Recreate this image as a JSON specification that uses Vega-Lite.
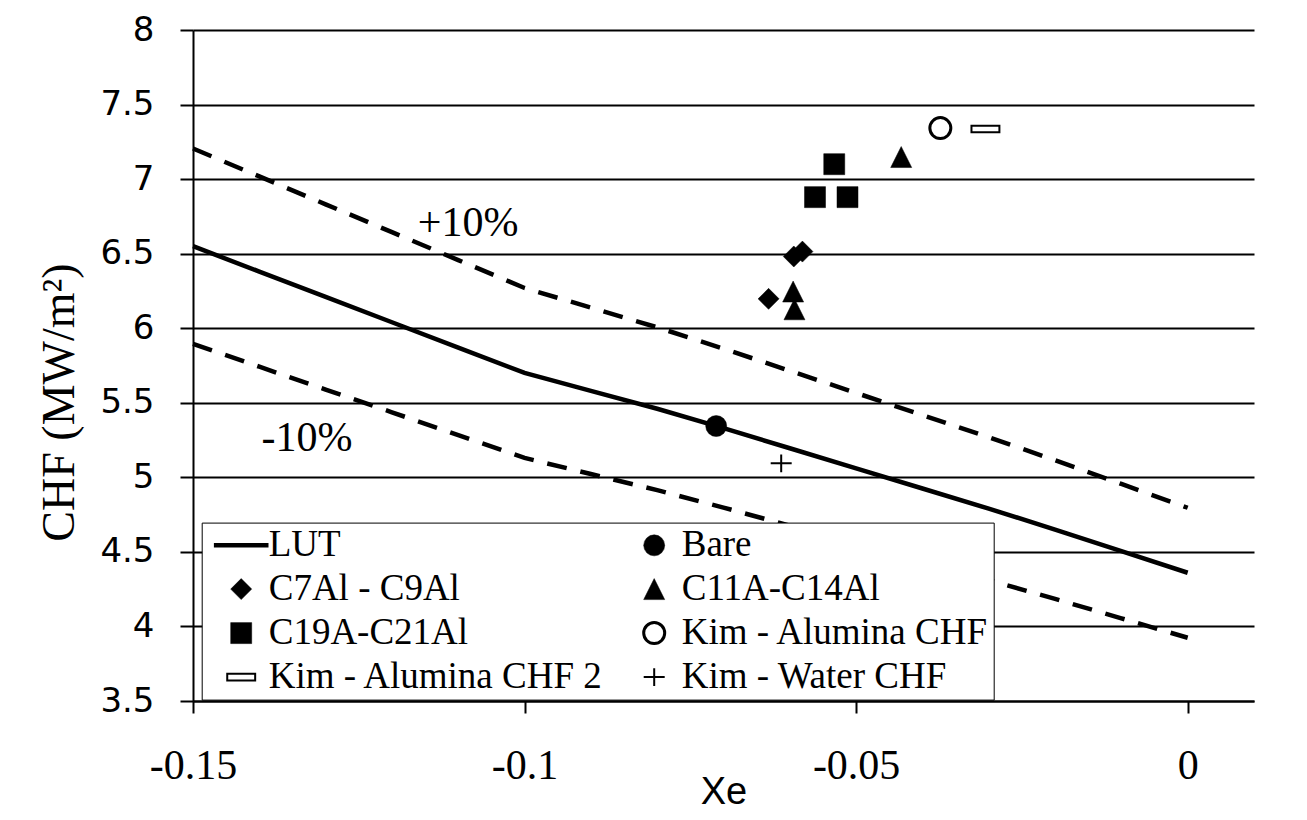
{
  "$schema": "https://vega.github.io/schema/vega-lite/v6.json",
  "width": 1061,
  "height": 671,
  "autosize": {"type": "none"},
  "padding": {"left": 193, "top": 30, "right": 53, "bottom": 119},
  "background": "white",
  "config": {"view": {"stroke": null}},
  "datasets": {
    "lut": [
      {"x": -0.15, "y": 6.55}, {"x": -0.14, "y": 6.38}, {"x": -0.13, "y": 6.21},
      {"x": -0.12, "y": 6.04}, {"x": -0.11, "y": 5.87}, {"x": -0.10, "y": 5.70},
      {"x": -0.09, "y": 5.58}, {"x": -0.08, "y": 5.46}, {"x": -0.07, "y": 5.33},
      {"x": -0.06, "y": 5.195}, {"x": -0.05, "y": 5.06}, {"x": -0.04, "y": 4.925},
      {"x": -0.03, "y": 4.79}, {"x": -0.02, "y": 4.65}, {"x": -0.01, "y": 4.505},
      {"x": 0.0, "y": 4.36}
    ],
    "bands": [
      {"band": "+10%", "x": -0.15, "y": 7.205}, {"band": "+10%", "x": -0.14, "y": 7.018},
      {"band": "+10%", "x": -0.13, "y": 6.831}, {"band": "+10%", "x": -0.12, "y": 6.644},
      {"band": "+10%", "x": -0.11, "y": 6.457}, {"band": "+10%", "x": -0.10, "y": 6.27},
      {"band": "+10%", "x": -0.09, "y": 6.138}, {"band": "+10%", "x": -0.08, "y": 6.006},
      {"band": "+10%", "x": -0.07, "y": 5.863}, {"band": "+10%", "x": -0.06, "y": 5.7145},
      {"band": "+10%", "x": -0.05, "y": 5.566}, {"band": "+10%", "x": -0.04, "y": 5.4175},
      {"band": "+10%", "x": -0.03, "y": 5.269}, {"band": "+10%", "x": -0.02, "y": 5.115},
      {"band": "+10%", "x": -0.01, "y": 4.9555}, {"band": "+10%", "x": 0.0, "y": 4.796},
      {"band": "-10%", "x": -0.15, "y": 5.895}, {"band": "-10%", "x": -0.14, "y": 5.742},
      {"band": "-10%", "x": -0.13, "y": 5.589}, {"band": "-10%", "x": -0.12, "y": 5.436},
      {"band": "-10%", "x": -0.11, "y": 5.283}, {"band": "-10%", "x": -0.10, "y": 5.13},
      {"band": "-10%", "x": -0.09, "y": 5.022}, {"band": "-10%", "x": -0.08, "y": 4.914},
      {"band": "-10%", "x": -0.07, "y": 4.797}, {"band": "-10%", "x": -0.06, "y": 4.6755},
      {"band": "-10%", "x": -0.05, "y": 4.554}, {"band": "-10%", "x": -0.04, "y": 4.4325},
      {"band": "-10%", "x": -0.03, "y": 4.311}, {"band": "-10%", "x": -0.02, "y": 4.185},
      {"band": "-10%", "x": -0.01, "y": 4.0545}, {"band": "-10%", "x": 0.0, "y": 3.924}
    ],
    "points": [
      {"series": "Bare", "x": -0.0711, "y": 5.344},
      {"series": "Kim - Water CHF", "x": -0.0613, "y": 5.094},
      {"series": "C7Al - C9Al", "x": -0.0632, "y": 6.197},
      {"series": "C7Al - C9Al", "x": -0.0594, "y": 6.481},
      {"series": "C7Al - C9Al", "x": -0.0581, "y": 6.514},
      {"series": "C11A-C14Al", "x": -0.0595, "y": 6.246},
      {"series": "C11A-C14Al", "x": -0.0593, "y": 6.127},
      {"series": "C11A-C14Al", "x": -0.0432, "y": 7.148},
      {"series": "C19A-C21Al", "x": -0.0533, "y": 7.10},
      {"series": "C19A-C21Al", "x": -0.0562, "y": 6.879},
      {"series": "C19A-C21Al", "x": -0.0513, "y": 6.879},
      {"series": "Kim - Alumina CHF", "x": -0.0373, "y": 7.342},
      {"series": "Kim - Alumina CHF 2", "x": -0.0305, "y": 7.336}
    ],
    "labels": [
      {"t": "+10%", "x": -0.1085, "y": 6.707},
      {"t": "-10%", "x": -0.1328, "y": 5.264}
    ]
  },
  "encoding": {
    "x": {
      "field": "x", "type": "quantitative",
      "scale": {"domain": [-0.15, 0.01], "nice": false, "zero": false},
      "axis": {
        "values": [-0.15, -0.1, -0.05, 0],
        "labelExpr": "toString(datum.value)",
        "grid": false,
        "domainColor": "black", "domainWidth": 2,
        "tickColor": "black", "tickWidth": 2, "tickSize": 12,
        "labelFont": "Liberation Serif", "labelFontSize": 42, "labelColor": "black",
        "labelPadding": 52, "labelBaseline": "middle", "labelFlush": false, "labelOverlap": false,
        "title": "Xe", "titleFont": "Liberation Sans", "titleFontSize": 38,
        "titleFontWeight": "normal", "titleColor": "black", "titleY": 91, "titleBaseline": "middle"
      }
    },
    "y": {
      "field": "y", "type": "quantitative",
      "scale": {"domain": [3.5, 8], "nice": false, "zero": false},
      "axis": {
        "values": [3.5, 4, 4.5, 5, 5.5, 6, 6.5, 7, 7.5, 8],
        "labelExpr": "toString(datum.value)",
        "grid": true, "gridColor": "black", "gridWidth": 2, "gridOpacity": 1,
        "domainColor": "black", "domainWidth": 2,
        "tickColor": "black", "tickWidth": 2, "tickSize": 13,
        "labelFont": "DejaVu Sans", "labelFontSize": 34, "labelColor": "black",
        "labelPadding": 26, "labelOverlap": false,
        "title": "CHF (MW/m²)", "titleFont": "Liberation Serif", "titleFontSize": 46,
        "titleFontWeight": "normal", "titleColor": "black",
        "titleX": -134, "titleY": 372, "titleBaseline": "middle", "titleAlign": "center", "titleAngle": -90
      }
    }
  },
  "layer": [
    {
      "data": {"name": "bands"},
      "mark": {"type": "line", "color": "black", "strokeWidth": 4.5, "strokeDash": [20, 14]},
      "encoding": {"detail": {"field": "band"}}
    },
    {
      "data": {"name": "lut"},
      "mark": {"type": "line", "color": "black", "strokeWidth": 4.5},
      "encoding": {}
    },
    {
      "data": {"name": "points"},
      "mark": {"type": "point", "size": 441, "opacity": 1, "filled": false},
      "encoding": {
        "shape": {
          "field": "series", "type": "nominal",
          "scale": {
            "domain": ["LUT", "C7Al - C9Al", "C19A-C21Al", "Kim - Alumina CHF 2", "Bare", "C11A-C14Al", "Kim - Alumina CHF", "Kim - Water CHF"],
            "range": ["M-2.6,0H2.6", "diamond", "square", "M-1.33,-0.32H1.33V0.32H-1.33Z", "circle", "M0,-1L1,1L-1,1Z", "circle", "M-1,0H1M0,-0.85V0.85"]
          },
          "legend": {
            "orient": "none", "legendX": 8.7, "legendY": 492.6,
            "columns": 2, "title": null,
            "strokeColor": "black", "fillColor": "white",
            "padding": 4, "symbolOffset": 17, "labelOffset": 9,
            "columnPadding": 14, "rowPadding": 6,
            "labelFont": "Liberation Serif", "labelFontSize": 37, "labelColor": "black",
            "labelLimit": 600, "symbolSize": 441,
            "encode": {"legend": {"update": {"strokeWidth": {"value": 2}}}}
          }
        },
        "fill": {
          "field": "series", "type": "nominal",
          "scale": {
            "domain": ["LUT", "C7Al - C9Al", "C19A-C21Al", "Kim - Alumina CHF 2", "Bare", "C11A-C14Al", "Kim - Alumina CHF", "Kim - Water CHF"],
            "range": ["transparent", "black", "black", "white", "black", "black", "white", "transparent"]
          }
        },
        "stroke": {
          "field": "series", "type": "nominal",
          "scale": {
            "domain": ["LUT", "C7Al - C9Al", "C19A-C21Al", "Kim - Alumina CHF 2", "Bare", "C11A-C14Al", "Kim - Alumina CHF", "Kim - Water CHF"],
            "range": ["black", "black", "black", "black", "black", "black", "black", "black"]
          }
        },
        "strokeWidth": {
          "field": "series", "type": "nominal",
          "scale": {
            "type": "ordinal",
            "domain": ["LUT", "C7Al - C9Al", "C19A-C21Al", "Kim - Alumina CHF 2", "Bare", "C11A-C14Al", "Kim - Alumina CHF", "Kim - Water CHF"],
            "range": [4.5, 0.5, 0.5, 2, 0.5, 0.5, 3, 2]
          }
        }
      }
    },
    {
      "data": {"name": "labels"},
      "mark": {"type": "text", "font": "Liberation Serif", "fontSize": 42, "color": "black", "align": "center", "baseline": "middle"},
      "encoding": {"text": {"field": "t"}}
    }
  ]
}
